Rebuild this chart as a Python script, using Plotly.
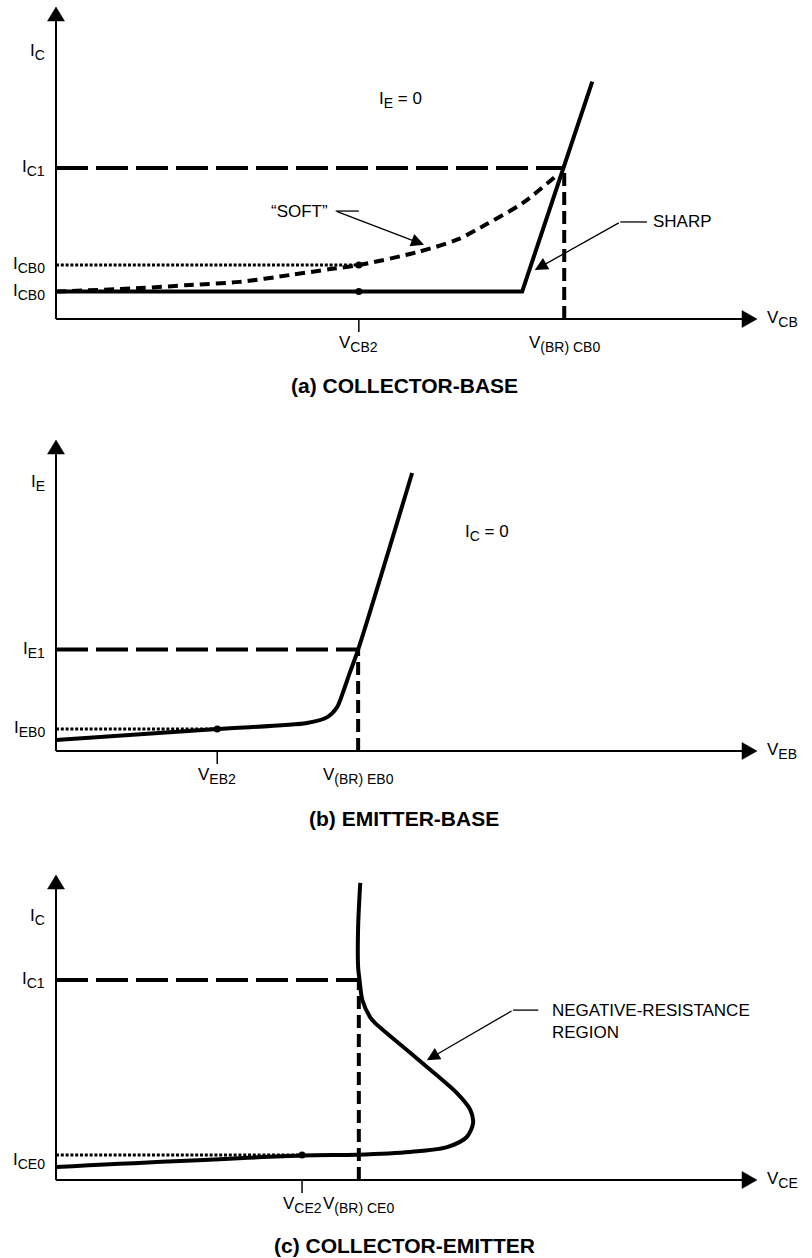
import plotly.graph_objects as go

W, H = 812, 1258
FONT = "Liberation Sans, Arial, Helvetica, sans-serif"

# ---------------- data (arbitrary units, each axis spans 0..10) ----------------
# (a) collector-base
a_ic1 = 4.84
a_icb0_soft = 1.73
a_icb0 = 0.88
a_vcb2 = 4.32
a_vbr = 7.25
a_sharp_v = [0.0, 6.65, 7.65]
a_sharp_i = [0.88, 0.88, 7.61]
a_soft_v = [0.0, 1.20, 1.91, 2.62, 3.34, 3.91, 4.32, 5.15, 5.73, 6.15, 6.66, 7.15]
a_soft_i = [0.88, 0.99, 1.09, 1.19, 1.41, 1.60, 1.73, 2.14, 2.55, 3.05, 3.72, 4.62]

# (b) emitter-base
b_ie1 = 3.26
b_ieb0 = 0.71
b_veb2 = 2.30
b_vbr = 4.31
b_v = [0.0, 2.30, 3.58, 3.87, 4.01, 4.09, 4.19, 4.31, 5.08]
b_i = [0.35, 0.71, 0.90, 1.09, 1.41, 1.86, 2.51, 3.26, 8.94]

# (c) collector-emitter
c_ic1 = 6.56
c_ice0 = 0.82
c_vce2 = 3.51
c_vbr = 4.32
c_v = [0.0, 3.51, 4.29, 5.05, 5.58, 5.86, 5.95, 5.91, 5.72, 5.14, 4.55, 4.48, 4.37, 4.33, 4.31, 4.31, 4.34]
c_i = [0.43, 0.80, 0.83, 0.92, 1.08, 1.41, 1.87, 2.30, 2.85, 4.00, 5.15, 5.34, 5.90, 6.56, 6.98, 8.30, 9.74]

# ---------------- layout geometry (pixels) ----------------
X0_PX, X1_PX = 56, 757
panels_px = [(319, 7), (751, 440), (1180, 875)]  # (origin y, arrow tip y)
XS = (X1_PX - X0_PX) / 10.0
X_LO, X_HI = -0.6, 10.4


def ys(k):
    o, t = panels_px[k]
    return (o - t) / 10.0


def yrange(k):
    o, t = panels_px[k]
    sy = ys(k)
    return (-20 / sy, 10 + min(6, t - 0.5) / sy)


fig = go.Figure()
shapes = []
annotations = []

BLACK = "black"


def ax_names(k):
    return ("x" if k == 0 else f"x{k+1}"), ("y" if k == 0 else f"y{k+1}")


def add_line(k, xs, yv, width=4, dash="solid", shape="linear"):
    xr, yr = ax_names(k)
    fig.add_trace(go.Scatter(x=xs, y=yv, mode="lines", xaxis=xr, yaxis=yr,
                             line=dict(color=BLACK, width=width, dash=dash,
                                       shape=shape, smoothing=0.8),
                             cliponaxis=False, hoverinfo="skip"))


def add_dot(k, xv, yv):
    xr, yr = ax_names(k)
    fig.add_trace(go.Scatter(x=[xv], y=[yv], mode="markers", xaxis=xr, yaxis=yr,
                             marker=dict(color=BLACK, size=7), cliponaxis=False,
                             hoverinfo="skip"))


def axes_frame(k, vtick):
    xr, yr = ax_names(k)
    sy = ys(k)
    shapes.append(dict(type="line", xref=xr, yref=yr, x0=0, y0=0, x1=10 - 4 / XS, y1=0,
                       line=dict(color=BLACK, width=2)))
    shapes.append(dict(type="line", xref=xr, yref=yr, x0=0, y0=0, x1=0, y1=10 - 4 / sy,
                       line=dict(color=BLACK, width=2)))
    bx = 10 - 15 / XS
    hh = 8.5 / sy
    shapes.append(dict(type="path", xref=xr, yref=yr,
                       path=f"M {bx},{-hh} L 10,0 L {bx},{hh} Z",
                       fillcolor=BLACK, line=dict(color=BLACK, width=0.5)))
    by = 10 - 14 / sy
    hw = 8.5 / XS
    shapes.append(dict(type="path", xref=xr, yref=yr,
                       path=f"M {-hw},{by} L 0,10 L {hw},{by} Z",
                       fillcolor=BLACK, line=dict(color=BLACK, width=0.5)))
    shapes.append(dict(type="line", xref=xr, yref=yr, x0=vtick, x1=vtick, y0=0,
                       y1=-13 / sy, line=dict(color=BLACK, width=1.5)))


def sub(main, s):
    return f'{main}<sub><span style="font-size:14px">{s}</span></sub>'


def text(k, s, x, y, xanchor="center", yanchor="middle", xpaper=False, yshift=0,
         size=17, align="center"):
    xr, yr = ax_names(k)
    annotations.append(dict(text=s, x=x, y=y, xref="paper" if xpaper else xr, yref=yr,
                            xanchor=xanchor, yanchor=yanchor, showarrow=False,
                            yshift=yshift, align=align,
                            font=dict(family=FONT, size=size, color=BLACK)))


def caption(s, py):
    annotations.append(dict(text=f"<b>{s}</b>", x=404 / W, y=1 - py / H, xref="paper",
                            yref="paper", xanchor="center", yanchor="middle",
                            showarrow=False, font=dict(family=FONT, size=21, color=BLACK)))


def leader(k, xa, ya, xb, xt, yt):
    """horizontal segment xa..xb at ya, then arrow from (xa,ya) to (xt,yt)"""
    xr, yr = ax_names(k)
    shapes.append(dict(type="line", xref=xr, yref=yr, x0=xa, x1=xb, y0=ya, y1=ya,
                       line=dict(color=BLACK, width=1.3)))
    annotations.append(dict(text="", x=xt, y=yt, xref=xr, yref=yr, ax=xa, ay=ya,
                            axref=xr, ayref=yr, showarrow=True, arrowhead=2,
                            arrowsize=2.0, arrowwidth=1.3, arrowcolor=BLACK,
                            standoff=0, startstandoff=0))


DASH_LONG = "32px,8px"
DASH_VERT = "13px,6px"
DOT = "3px,1.8px"
SOFT = "10px,6px"
LEFT_X = 47 / W

# ---------------- panel (a) ----------------
add_line(0, [0, a_vbr], [a_ic1, a_ic1], dash=DASH_LONG)
add_line(0, [a_vbr, a_vbr], [0, a_ic1], dash=DASH_VERT)
add_line(0, [0, a_vcb2], [a_icb0_soft, a_icb0_soft], width=3, dash=DOT)
add_line(0, a_soft_v, a_soft_i, dash=SOFT, shape="spline")
add_line(0, a_sharp_v, a_sharp_i)
add_dot(0, a_vcb2, a_icb0_soft)
add_dot(0, a_vcb2, a_icb0)
axes_frame(0, a_vcb2)
text(0, sub("I", "C"), LEFT_X, 8.56, xanchor="right", xpaper=True)
text(0, sub("I", "C1"), LEFT_X, a_ic1, xanchor="right", xpaper=True)
text(0, sub("I", "CB0"), LEFT_X, a_icb0_soft, xanchor="right", xpaper=True)
text(0, sub("I", "CB0"), LEFT_X, a_icb0, xanchor="right", xpaper=True)
text(0, sub("I", "E") + " = 0", 4.92, 7.02)
text(0, sub("V", "CB2"), a_vcb2, 0, yanchor="top", yshift=-12)
text(0, sub("V", "(BR) CB0"), a_vbr, 0, yanchor="top", yshift=-12)
text(0, sub("V", "CB"), 765 / W, 0, xanchor="left", xpaper=True)
text(0, "“SOFT”", 3.91, 3.46, xanchor="right")
leader(0, 3.99, 3.46, 4.32, 5.25, 2.38)
text(0, "SHARP", 8.49, 3.11, xanchor="left")
leader(0, 8.05, 3.11, 8.43, 6.83, 1.57)
caption("(a) COLLECTOR-BASE", 385)

# ---------------- panel (b) ----------------
add_line(1, [0, b_vbr], [b_ie1, b_ie1], dash=DASH_LONG)
add_line(1, [b_vbr, b_vbr], [0, b_ie1], dash=DASH_VERT)
add_line(1, [0, b_veb2], [b_ieb0, b_ieb0], width=3, dash=DOT)
add_line(1, b_v, b_i, shape="spline")
add_dot(1, b_veb2, b_ieb0)
axes_frame(1, b_veb2)
text(1, sub("I", "E"), LEFT_X, 8.62, xanchor="right", xpaper=True)
text(1, sub("I", "E1"), LEFT_X, b_ie1, xanchor="right", xpaper=True)
text(1, sub("I", "EB0"), LEFT_X, b_ieb0, xanchor="right", xpaper=True)
text(1, sub("I", "C") + " = 0", 6.15, 7.01)
text(1, sub("V", "EB2"), b_veb2, 0, yanchor="top", yshift=-12)
text(1, sub("V", "(BR) EB0"), b_vbr, 0, yanchor="top", yshift=-12)
text(1, sub("V", "EB"), 765 / W, 0, xanchor="left", xpaper=True)
caption("(b) EMITTER-BASE", 818)

# ---------------- panel (c) ----------------
add_line(2, [0, c_vbr], [c_ic1, c_ic1], dash=DASH_LONG)
add_line(2, [c_vbr, c_vbr], [0, c_ic1], dash=DASH_VERT)
add_line(2, [0, c_vce2], [c_ice0, c_ice0], width=3, dash=DOT)
add_line(2, c_v, c_i, shape="spline")
add_dot(2, c_vce2, c_ice0)
axes_frame(2, c_vce2)
text(2, sub("I", "C"), LEFT_X, 8.62, xanchor="right", xpaper=True)
text(2, sub("I", "C1"), LEFT_X, c_ic1, xanchor="right", xpaper=True)
text(2, sub("I", "CE0"), LEFT_X, c_ice0, xanchor="right", xpaper=True, yshift=-6)
text(2, sub("V", "CE2"), c_vce2, 0, yanchor="top", yshift=-12)
text(2, sub("V", "(BR) CE0"), c_vbr, 0, yanchor="top", yshift=-12)
text(2, sub("V", "CE"), 765 / W, 0, xanchor="left", xpaper=True)
text(2, "NEGATIVE-RESISTANCE<br>REGION", 7.05, 5.21, xanchor="left", align="left")
leader(2, 6.52, 5.57, 6.88, 5.29, 3.93)
caption("(c) COLLECTOR-EMITTER", 1245)

# ---------------- axes ----------------
layout_axes = {}
for k, (o, t) in enumerate(panels_px):
    xkey = "xaxis" if k == 0 else f"xaxis{k+1}"
    ykey = "yaxis" if k == 0 else f"yaxis{k+1}"
    xr, yr = ax_names(k)
    sy = ys(k)
    ylo, yhi = yrange(k)
    xd0 = (X0_PX + X_LO * XS) / W
    xd1 = (X0_PX + X_HI * XS) / W
    yd0 = 1 - (o - ylo * sy) / H
    yd1 = 1 - (o - yhi * sy) / H
    layout_axes[xkey] = dict(domain=[xd0, xd1], range=[X_LO, X_HI], visible=False,
                             fixedrange=True, anchor=yr)
    layout_axes[ykey] = dict(domain=[yd0, yd1], range=[ylo, yhi], visible=False,
                             fixedrange=True, anchor=xr)

fig.update_layout(width=W, height=H, margin=dict(l=0, r=0, t=0, b=0),
                  paper_bgcolor="white", plot_bgcolor="white", showlegend=False,
                  shapes=shapes, annotations=annotations, hovermode=False,
                  **layout_axes)

fig.write_html("out.html", config={"displayModeBar": False},
               post_script="document.body.style.margin='0px';"
                           "document.body.style.overflow='hidden';")
